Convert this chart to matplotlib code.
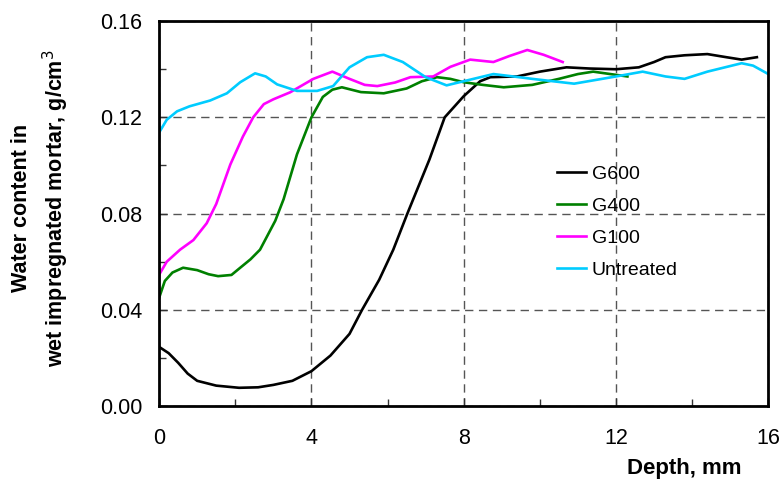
import numpy as np
import matplotlib
matplotlib.use("Agg")
import matplotlib.pyplot as plt
from matplotlib.ticker import MultipleLocator

plt.rcParams['font.family'] = ['Liberation Sans', 'DejaVu Sans']

# depth (mm) and water content (g/cm3)
g600_x = [0, 0.25, 0.5, 0.75, 1.0, 1.5, 2.1, 2.6, 3.0, 3.5, 4.0, 4.5, 5.0, 5.33, 5.78, 6.15, 6.52, 7.1, 7.5, 8.0, 8.43, 8.7, 9.4, 10.0, 10.7, 11.3, 12.0, 12.6, 13.0, 13.3, 13.8, 14.4, 14.9, 15.3, 15.7]
g600_y = [0.0246, 0.022, 0.018, 0.0135, 0.0105, 0.0085, 0.0076, 0.0078, 0.0088, 0.0105, 0.0145, 0.021, 0.030, 0.040, 0.0525, 0.065, 0.080, 0.1025, 0.120, 0.1288, 0.135, 0.1367, 0.137, 0.139, 0.1408, 0.1403, 0.140, 0.1408, 0.143, 0.145, 0.1458, 0.1463, 0.145, 0.144, 0.145]

g400_x = [0, 0.15, 0.35, 0.63, 1.0, 1.3, 1.55, 1.9, 2.13, 2.4, 2.65, 3.05, 3.27, 3.62, 4.0, 4.3, 4.55, 4.8, 5.3, 5.9, 6.5, 6.9, 7.3, 7.65, 8.0, 8.5, 9.05, 9.8, 10.5, 11.0, 11.4, 12.3]
g400_y = [0.045, 0.052, 0.0555, 0.0575, 0.0565, 0.0548, 0.054, 0.0545, 0.0575, 0.061, 0.065, 0.077, 0.086, 0.1046, 0.120, 0.1285, 0.1315, 0.1325, 0.1305, 0.130, 0.132, 0.135, 0.1367, 0.136, 0.1346, 0.1335, 0.1325, 0.1335, 0.136, 0.138, 0.139, 0.137]

g100_x = [0, 0.2, 0.55, 0.9, 1.25, 1.5, 1.87, 2.2, 2.47, 2.75, 3.0, 3.44, 4.05, 4.55, 5.0, 5.4, 5.73, 6.2, 6.6, 7.2, 7.65, 8.17, 8.78, 9.2, 9.67, 10.1, 10.6]
g100_y = [0.0546, 0.060, 0.065, 0.069, 0.076, 0.084, 0.1004, 0.112, 0.120, 0.1255, 0.1275, 0.1304, 0.136, 0.139, 0.136, 0.1335, 0.133, 0.1345, 0.1367, 0.137, 0.141, 0.144, 0.143, 0.1455, 0.148, 0.146, 0.143]

untr_x = [0, 0.2, 0.47, 0.8, 1.34, 1.78, 2.13, 2.52, 2.8, 3.1, 3.62, 4.15, 4.57, 5.0, 5.46, 5.9, 6.4, 7.0, 7.55, 8.1, 8.78, 9.3, 9.8, 10.9, 12.0, 12.7, 13.3, 13.8, 14.4, 15.3, 15.6, 16.0]
untr_y = [0.1137, 0.119, 0.1225, 0.1246, 0.127, 0.130, 0.1346, 0.1383, 0.137, 0.1337, 0.131, 0.131, 0.133, 0.1408, 0.145, 0.146, 0.143, 0.1367, 0.1333, 0.1354, 0.138, 0.137, 0.136, 0.134, 0.137, 0.139, 0.137, 0.136, 0.139, 0.1425, 0.1415, 0.138]

series = [
    ("G600", g600_x, g600_y, "black"),
    ("G400", g400_x, g400_y, "#008000"),
    ("G100", g100_x, g100_y, "#ff00ff"),
    ("Untreated", untr_x, untr_y, "#00ccff"),
]

fig = plt.figure(figsize=(7.8, 4.8), dpi=100)
ax = fig.add_axes([0.204, 0.154, 0.781, 0.802])

for name, xs, ys, col in series:
    ax.plot(xs, ys, color=col, lw=1.9, label=name, solid_joinstyle='round')

ax.set_xlim(0, 16)
ax.set_ylim(0, 0.16)
ax.xaxis.set_major_locator(MultipleLocator(4))
ax.xaxis.set_minor_locator(MultipleLocator(2))
ax.yaxis.set_minor_locator(MultipleLocator(0.02))
ax.set_yticks([0, 0.04, 0.08, 0.12, 0.16])
ax.set_yticklabels(["0.00", "0.04", "0.08", "0.12", "0.16"])
ax.tick_params(which='both', direction='in', labelsize=15.5, width=1, color='#333333')
ax.tick_params(which='major', length=6)
ax.tick_params(which='minor', length=5)
ax.tick_params(axis='x', which='major', pad=16)
ax.tick_params(axis='y', which='major', pad=12)
ax.grid(True, which='major', color='#555555', linestyle=(0, (6, 4)), linewidth=1)
for s in ax.spines.values():
    s.set_linewidth(2)

fig.text(41 / 780, 1 - 208 / 480, "Water content in\nwet impregnated mortar, g/cm$^3$",
         rotation=90, ha='center', va='center', multialignment='center',
         fontsize=15.5, fontweight='bold', linespacing=1.4)
fig.text(0.951, 0.023, "Depth, mm", ha='right', va='center', fontsize=16, fontweight='bold')

ax.legend(loc='upper left', bbox_to_anchor=(0.64, 0.645), frameon=False, fontsize=14,
          handlelength=1.5, handletextpad=0.3, labelspacing=0.73, borderaxespad=0)

fig.savefig("out.png", dpi=100)
